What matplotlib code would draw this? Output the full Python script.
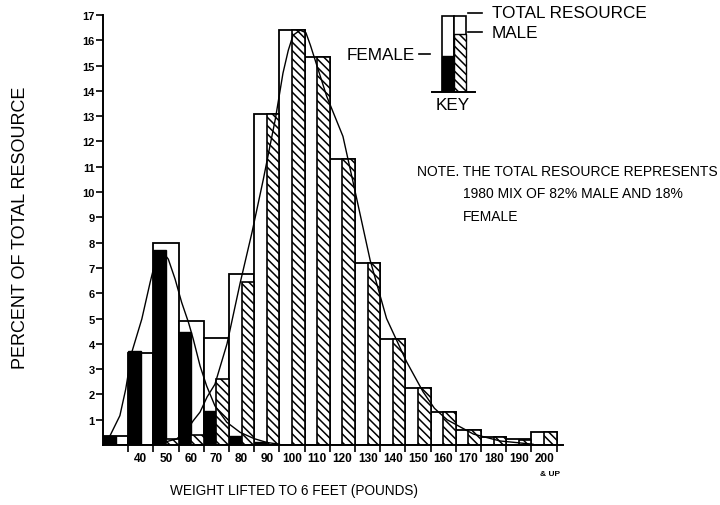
import matplotlib.pyplot as plt
import matplotlib.patches as mpatches
import numpy as np

# bins (lower edge, pounds) - last one is "200 & up"
bins = np.arange(30, 210, 10)
total = [0.35, 3.65, 8.0, 4.9, 4.25, 6.75, 13.1, 16.4, 15.35, 11.3, 7.2, 4.2, 2.25, 1.3, 0.6, 0.3, 0.25, 0.5]
female = [0.35, 3.7, 7.7, 4.45, 1.35, 0.35, 0.1, 0, 0, 0, 0, 0, 0, 0, 0, 0, 0, 0]
male = [0, 0, 0.25, 0.4, 2.6, 6.45, 13.1, 16.4, 15.35, 11.3, 7.2, 4.2, 2.25, 1.3, 0.6, 0.3, 0.2, 0.5]
xlabels = [str(b) for b in bins[1:]]
ylabels = [str(v) for v in range(1, 18)]

# fitted curves
female_x = [32.8, 36.7, 39.0, 41.4, 45.4, 48.7, 51.3, 53.3, 55.9, 58.6, 61.2, 63.9, 65.8,
            68.5, 71.1, 74.4, 79.1, 84.4, 90.0, 95.0, 100.0]
female_y = [0.37, 1.16, 2.2, 3.66, 4.98, 6.43, 7.48, 7.68, 7.35, 6.56, 5.64, 4.85, 4.19,
            3.13, 2.34, 1.55, 0.9, 0.5, 0.25, 0.1, 0.03]
male_x = [52.0, 59.2, 63.2, 65.8, 68.5, 71.3, 74.4, 79.2, 84.4, 89.1, 93.6, 98.4, 101.4,
          103.5, 105.4, 108.2, 110.5, 112.3, 113.9, 118.7, 125.2, 129.2, 136.0, 142.5,
          150.4, 157.0, 161.5, 166.5, 172.0, 177.0, 187.5, 200.6]
male_y = [0.05, 0.24, 0.57, 0.96, 1.3, 1.9, 2.4, 4.0, 6.4, 8.4, 10.5, 12.9, 14.7,
          15.6, 16.2, 16.4, 16.3, 15.8, 15.3, 13.8, 12.2, 10.4, 7.3, 5.0,
          3.3, 2.1, 1.45, 1.0, 0.7, 0.43, 0.16, 0.03]

plt.rcParams['font.family'] = ['Liberation Sans', 'DejaVu Sans']
plt.rcParams['hatch.linewidth'] = 1.1

W, H = 720, 506
def fx(x):
    return x / W
def fy(y):
    return 1 - y / H

fig = plt.figure(figsize=(7.2, 5.06), dpi=100)
ax = fig.add_axes([103 / W, 60 / H, 460 / W, 430 / H])

ax.bar(bins, total, width=10, align='edge', color='white', edgecolor='black', lw=1.3)
ax.bar(bins, female, width=5, align='edge', color='black', edgecolor='black', lw=1.0)
ax.bar(bins + 5, male, width=5, align='edge', color='white', edgecolor='black',
       hatch='\\\\\\\\', lw=1.2)
ax.plot(female_x, female_y, color='black', lw=1.0)
ax.plot(male_x, male_y, color='black', lw=1.0)

ax.set_xlim(30, 212.5)
ax.set_ylim(0, 17)
ax.spines['top'].set_visible(False)
ax.spines['right'].set_visible(False)
ax.spines['left'].set_linewidth(1.4)
ax.spines['bottom'].set_linewidth(1.4)

ax.set_yticks(range(1, 18))
ax.set_yticklabels(ylabels, fontsize=8, fontweight='bold')
ax.tick_params(axis='y', direction='out', length=5, width=1.2, pad=1)

ax.set_xticks(np.arange(40, 220, 10))
ax.set_xticklabels([])
ax.set_xticks(bins[1:] + 5, minor=True)
ax.set_xticklabels(xlabels, minor=True, fontsize=8.5, fontweight='bold')
ax.tick_params(axis='x', which='major', direction='out', length=5, width=1.2)
ax.tick_params(axis='x', which='minor', length=0, pad=5)

fig.text(fx(550), fy(475), '& UP', fontsize=6, fontweight='bold', ha='center', va='center')
fig.text(fx(294), fy(491), 'WEIGHT LIFTED TO 6 FEET (POUNDS)', fontsize=9.8,
         ha='center', va='center')
fig.text(fx(21), fy(228), 'PERCENT OF TOTAL RESOURCE', fontsize=13, rotation=90,
         ha='center', va='center')

# key
kax = fig.add_axes([432 / W, (H - 93) / H, 43 / W, 77 / H])
kax.set_xlim(0, 43)
kax.set_ylim(0, 77)
kax.axis('off')
kax.add_patch(mpatches.Rectangle((10, 0), 12, 76, facecolor='white', edgecolor='black', lw=1.2))
kax.add_patch(mpatches.Rectangle((22, 0), 12, 76, facecolor='white', edgecolor='black', lw=1.2))
kax.add_patch(mpatches.Rectangle((10, 0), 12, 36, facecolor='black', edgecolor='black', lw=1.0))
kax.add_patch(mpatches.Rectangle((22, 0), 12, 58, facecolor='white', edgecolor='black',
                                 hatch='\\\\\\\\', lw=1.0))
kax.plot([0, 43], [0, 0], color='black', lw=1.4, clip_on=False)

fig.add_artist(plt.Line2D([fx(468), fx(482)], [fy(14), fy(14)], color='black', lw=1.2))
fig.add_artist(plt.Line2D([fx(468), fx(482)], [fy(33), fy(33)], color='black', lw=1.2))
fig.add_artist(plt.Line2D([fx(419), fx(430)], [fy(55), fy(55)], color='black', lw=1.2))
fig.text(fx(492), fy(13), 'TOTAL RESOURCE', fontsize=12.3, ha='left', va='center')
fig.text(fx(492), fy(33), 'MALE', fontsize=12.3, ha='left', va='center')
fig.text(fx(415), fy(55), 'FEMALE', fontsize=12.3, ha='right', va='center')
fig.text(fx(453), fy(105), 'KEY', fontsize=12.3, ha='center', va='center')

fig.text(fx(417), fy(172), 'NOTE. THE TOTAL RESOURCE REPRESENTS', fontsize=10,
         ha='left', va='center')
fig.text(fx(463), fy(194), '1980 MIX OF 82% MALE AND 18%', fontsize=10, ha='left', va='center')
fig.text(fx(463), fy(217), 'FEMALE', fontsize=10, ha='left', va='center')

fig.savefig('out.png', dpi=100)
